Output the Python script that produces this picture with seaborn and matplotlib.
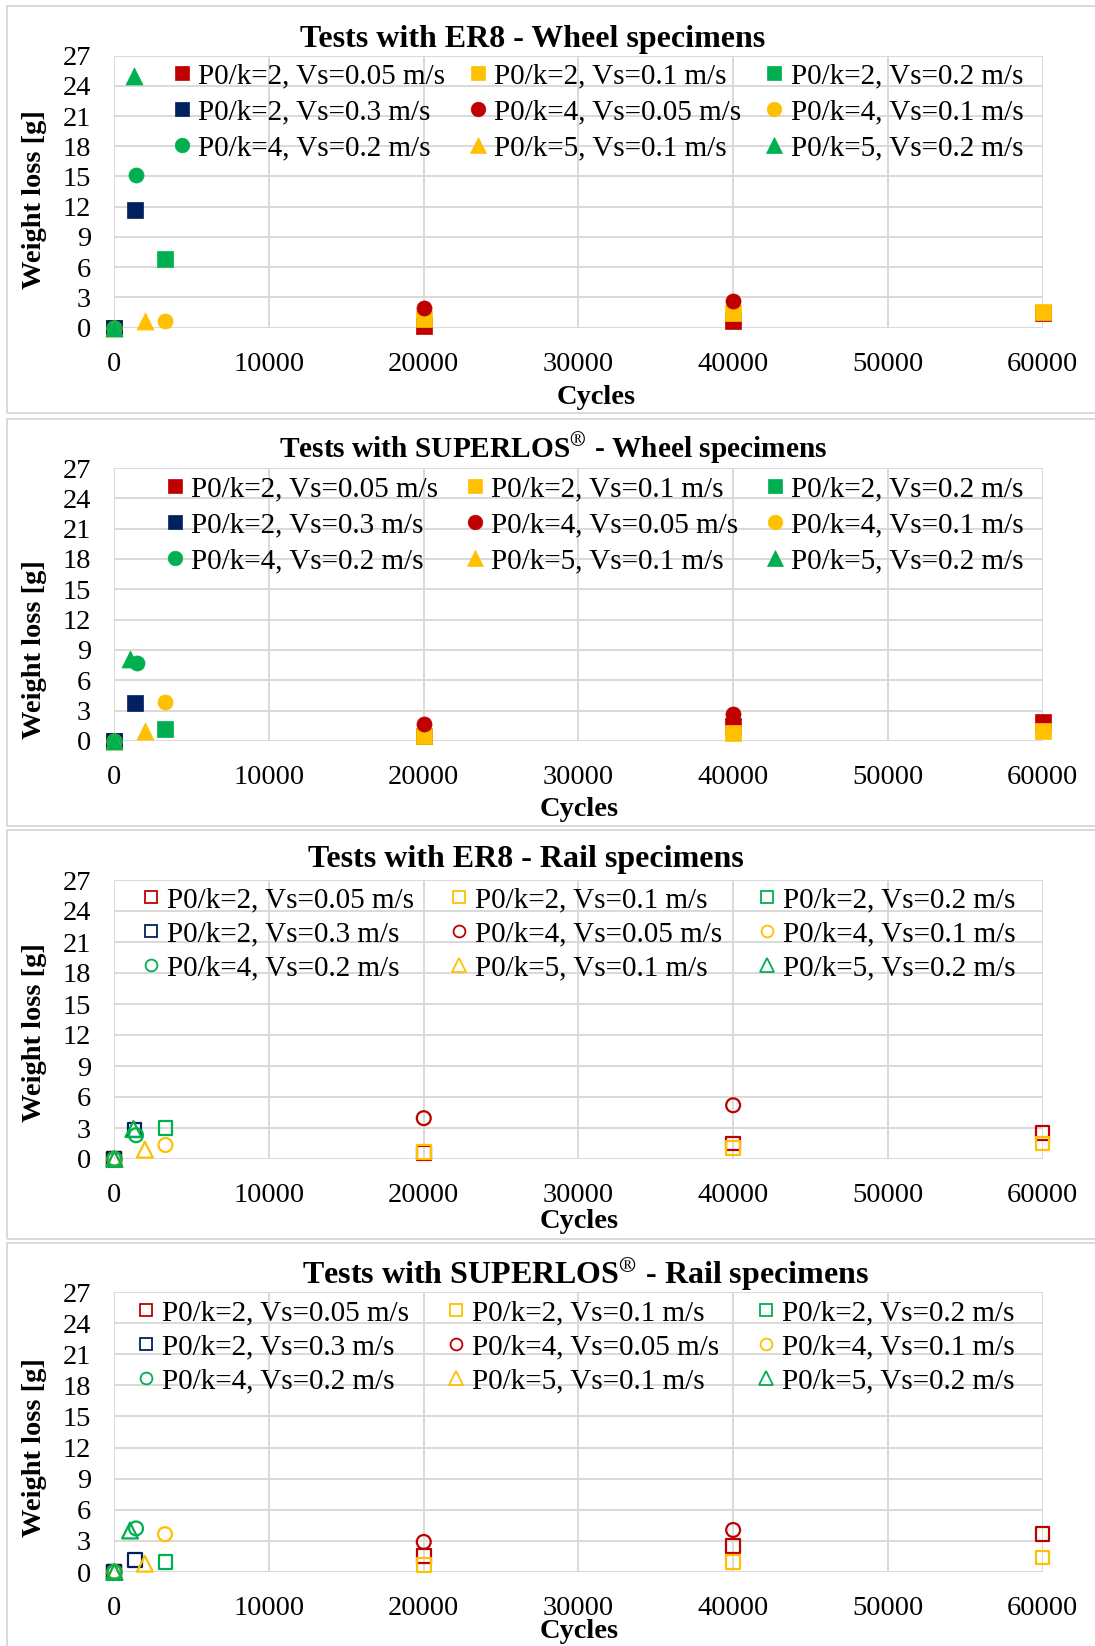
import numpy as np
import pandas as pd
import matplotlib
matplotlib.use("Agg")
import matplotlib.pyplot as plt
import seaborn as sns
from matplotlib.lines import Line2D
from matplotlib.patches import Rectangle

# ---------------- data ----------------
SERIES = ["P0/k=2, Vs=0.05 m/s", "P0/k=2, Vs=0.1 m/s", "P0/k=2, Vs=0.2 m/s",
          "P0/k=2, Vs=0.3 m/s", "P0/k=4, Vs=0.05 m/s", "P0/k=4, Vs=0.1 m/s",
          "P0/k=4, Vs=0.2 m/s", "P0/k=5, Vs=0.1 m/s", "P0/k=5, Vs=0.2 m/s"]
COLORS = ["#C00000", "#FFC000", "#00B050", "#002060", "#C00000",
          "#FFC000", "#00B050", "#FFC000", "#00B050"]
MARKERS = ["s", "s", "s", "s", "o", "o", "o", "^", "^"]

X_TICKS = [0, 10000, 20000, 30000, 40000, 50000, 60000]
Y_TICKS = [0, 3, 6, 9, 12, 15, 18, 21, 24, 27]

ER8_WHEEL_CYCLES = [[0, 20000, 40000, 60000], [0, 20000, 40000, 60000], [0, 3300], [0, 1300],
                    [0, 20000, 40000], [0, 3300], [0, 1420], [0, 2000], [0, 1250]]
ER8_WHEEL_LOSS = [[0, 0.2, 0.7, 1.4], [0, 0.9, 1.4, 1.5], [0, 6.85], [0, 11.65],
                  [0, 1.9, 2.65], [0, 0.7], [0, 15.1], [0, 0.7], [0, 25.0]]

SLOS_WHEEL_CYCLES = [[0, 20000, 40000, 60000], [0, 20000, 40000, 60000], [0, 3300], [0, 1300],
                     [0, 20000, 40000], [0, 3300], [0, 1470], [0, 2000], [0, 1020]]
SLOS_WHEEL_LOSS = [[0, 0.5, 1.5, 1.9], [0, 0.5, 0.75, 0.95], [0, 1.2], [0, 3.75],
                   [0, 1.7, 2.65], [0, 3.85], [0, 7.7], [0, 1.0], [0, 8.1]]

ER8_RAIL_CYCLES = [[0, 20000, 40000, 60000], [0, 20000, 40000, 60000], [0, 3300], [0, 1300],
                   [0, 20000, 40000], [0, 3300], [0, 1400], [0, 1970], [0, 1230]]
ER8_RAIL_LOSS = [[0, 0.6, 1.5, 2.5], [0, 0.65, 1.1, 1.5], [0, 3.0], [0, 2.8],
                 [0, 3.95, 5.2], [0, 1.35], [0, 2.3], [0, 0.9], [0, 2.9]]

SLOS_RAIL_CYCLES = [[0, 20000, 40000, 60000], [0, 20000, 40000, 60000], [0, 3300], [0, 1320],
                    [0, 20000, 40000], [0, 3270], [0, 1400], [0, 1970], [0, 1010]]
SLOS_RAIL_LOSS = [[0, 1.55, 2.55, 3.65], [0, 0.65, 1.0, 1.4], [0, 1.0], [0, 1.15],
                  [0, 2.9, 4.05], [0, 3.65], [0, 4.2], [0, 0.8], [0, 4.0]]

TITLES = ["Tests with ER8 - Wheel specimens",
          r"Tests with SUPERLOS$^{\circledR}$ - Wheel specimens",
          "Tests with ER8 - Rail specimens",
          r"Tests with SUPERLOS$^{\circledR}$ - Rail specimens"]

# ---------------- layout ----------------
W, H, DPI = 1095, 1646, 100
plt.rcParams["font.family"] = ["Liberation Serif", "DejaVu Serif"]
plt.rcParams["mathtext.fontset"] = "stix"

fig = plt.figure(figsize=(W / DPI, H / DPI), dpi=DPI)
fig.patch.set_facecolor("white")


def fx(px):
    return px / W


def fy(py):
    return 1 - py / H


AX_LEFT, AX_RIGHT = 114.4, 1042.5
GRID = "#D9D9D9"

panels = [
    dict(cyc=ER8_WHEEL_CYCLES, loss=ER8_WHEEL_LOSS, filled=True, box=(6, 413),
         ax_tb=(55.6, 327.6), title_xy=(533, 39), title_fs=23, xl_xy=(596, 397), yl_y=200,
         leg=(173.6, 112), colsp=0.83, lsp=0.33),
    dict(cyc=SLOS_WHEEL_CYCLES, loss=SLOS_WHEEL_LOSS, filled=True, box=(419, 826),
         ax_tb=(468, 741), title_xy=(553, 449), title_fs=21.2, xl_xy=(579, 809), yl_y=650,
         leg=(166.7, 525), colsp=0.95, lsp=0.33),
    dict(cyc=ER8_RAIL_CYCLES, loss=ER8_RAIL_LOSS, filled=False, box=(830, 1239),
         ax_tb=(880, 1159), title_xy=(526, 860), title_fs=23, xl_xy=(579, 1221), yl_y=1033,
         leg=(141.8, 934), colsp=1.25, lsp=0.27),
    dict(cyc=SLOS_RAIL_CYCLES, loss=SLOS_RAIL_LOSS, filled=False, box=(1243, 1652),
         ax_tb=(1292, 1572), title_xy=(585, 1274), title_fs=23, xl_xy=(579, 1631), yl_y=1448,
         leg=(137.6, 1347), colsp=1.3, lsp=0.27),
]

ORDER = [0, 3, 6, 1, 4, 7, 2, 5, 8]  # row-major legend with ncol=3

for p_i, p in enumerate(panels):
    # panel frame
    top, bot = p["box"]
    fig.add_artist(Rectangle((fx(7), fy(bot)), fx(1110) - fx(7), fy(top) - fy(bot),
                             transform=fig.transFigure, fill=False, ec=GRID, lw=1.4))
    t, b = p["ax_tb"]
    ax = fig.add_axes([fx(AX_LEFT), fy(b), fx(AX_RIGHT) - fx(AX_LEFT), fy(t) - fy(b)])
    ax.set_facecolor("none")

    for i, name in enumerate(SERIES):
        d = pd.DataFrame({"Cycles": p["cyc"][i], "Weight loss": p["loss"][i]})
        if p["filled"]:
            kw = dict(color=COLORS[i], edgecolor=COLORS[i], linewidth=0.5,
                      s=150 if MARKERS[i] == "^" else 118)
        else:
            kw = dict(color=COLORS[i], facecolor="none", edgecolor=COLORS[i], linewidth=1.6,
                      s=130 if MARKERS[i] == "^" else 100)
        sns.scatterplot(data=d, x="Cycles", y="Weight loss", ax=ax, marker=MARKERS[i],
                        legend=False, clip_on=False, zorder=3 + i, **kw)

    ax.set_xlim(0, 60000)
    ax.set_ylim(0, 27)
    ax.set_xticks(X_TICKS)
    ax.set_xticklabels([str(v) for v in X_TICKS])
    ax.set_yticks(Y_TICKS)
    ax.set_yticklabels([str(v) for v in Y_TICKS])
    ax.grid(True, color=GRID, lw=1.4)
    ax.set_axisbelow(True)
    for s in ax.spines.values():
        s.set_visible(False)
    ax.tick_params(axis="both", length=0, labelsize=20.5)
    ax.tick_params(axis="x", pad=17.5)
    ax.tick_params(axis="y", pad=17)
    ax.set_xlabel("")
    ax.set_ylabel("")

    # legend
    handles = []
    for i in ORDER:
        if p["filled"]:
            handles.append(Line2D([], [], ls="none", marker=MARKERS[i],
                                  ms=10.5 if MARKERS[i] != "^" else 11.5,
                                  mfc=COLORS[i], mec=COLORS[i], mew=0.5))
        else:
            handles.append(Line2D([], [], ls="none", marker=MARKERS[i],
                                  ms=8.5 if MARKERS[i] != "^" else 9.5,
                                  mfc="none", mec=COLORS[i], mew=1.3))
    labels = [SERIES[i] for i in ORDER]
    ax.legend(handles, labels, ncol=3, loc="center left",
              bbox_to_anchor=(fx(p["leg"][0]), fy(p["leg"][1])), bbox_transform=fig.transFigure,
              frameon=False, fontsize=21, handlelength=0.6, handletextpad=0.25,
              columnspacing=p["colsp"], labelspacing=p["lsp"], borderpad=0, borderaxespad=0)

    # texts
    fig.text(fx(p["title_xy"][0]), fy(p["title_xy"][1]), TITLES[p_i], ha="center", va="center",
             fontsize=p["title_fs"], fontweight="bold")
    fig.text(fx(p["xl_xy"][0]), fy(p["xl_xy"][1]), "Cycles", ha="center", va="center",
             fontsize=20.5, fontweight="bold")
    fig.text(fx(35), fy(p["yl_y"]), "Weight loss [g]", ha="center", va="center",
             rotation=90, fontsize=20.5, fontweight="bold")

fig.savefig("out.png", dpi=DPI, facecolor="white")
